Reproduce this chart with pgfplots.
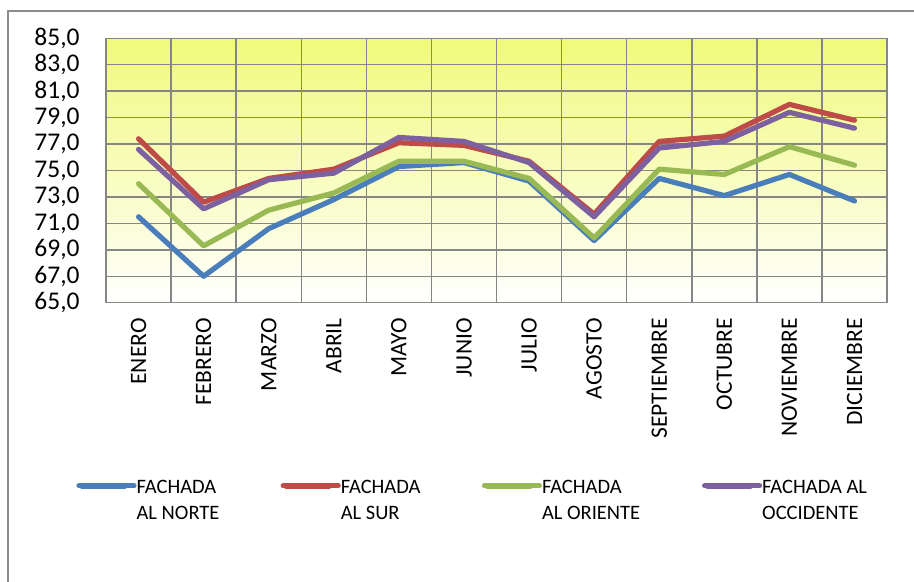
\documentclass[border=0pt]{standalone}
\usepackage{fontspec}
\setmainfont{Carlito}
\usepackage{pgfplots}
\usepackage{pgfplotstable}
\pgfplotsset{compat=1.18}

\definecolor{serNorte}{RGB}{74,126,187}
\definecolor{serSur}{RGB}{190,75,72}
\definecolor{serOriente}{RGB}{152,185,84}
\definecolor{serOccid}{RGB}{125,96,160}
\definecolor{gridgray}{RGB}{134,134,134}
\definecolor{framegray}{RGB}{140,140,140}
\definecolor{topyellow}{RGB}{240,250,122}

% temperaturas por fachada, mes 0 = enero
\pgfplotstableread{
mes norte sur  oriente occidente
0   71.5  77.4 74.0    76.6
1   67.0  72.6 69.3    72.1
2   70.6  74.4 72.0    74.3
3   72.8  75.1 73.3    74.8
4   75.3  77.1 75.7    77.5
5   75.6  76.9 75.7    77.2
6   74.2  75.7 74.4    75.6
7   69.7  71.7 69.9    71.5
8   74.4  77.2 75.1    76.7
9   73.1  77.6 74.7    77.2
10  74.7  80.0 76.8    79.4
11  72.7  78.8 75.4    78.2
}\datos

\newcommand{\entrada}[3]{\begin{tabular}[t]{@{}p{#1}@{}}#2\\#3\end{tabular}}

\begin{document}
\begin{tikzpicture}
\useasboundingbox (0,0) rectangle (457pt,291pt);
\draw[framegray, line width=0.7pt] (4pt,-2pt) rectangle (460pt,285.5pt);
\begin{axis}[
  at={(53pt,139.65pt)}, anchor=south west,
  scale only axis, width=390.5pt, height=132.2pt,
  xmin=-0.5, xmax=11.5, ymin=65, ymax=85,
  xtick={0,...,11},
  xticklabels={ENERO,FEBRERO,MARZO,ABRIL,MAYO,JUNIO,JULIO,AGOSTO,SEPTIEMBRE,OCTUBRE,NOVIEMBRE,DICIEMBRE},
  minor xtick={-0.5,0.5,...,11.5},
  ytick={65,67,...,85},
  xminorgrids=true, ymajorgrids=true,
  major tick length=0pt, minor tick length=0pt,
  grid style={gridgray, line width=0.75pt},
  minor grid style={gridgray, line width=0.75pt},
  axis line style={gridgray, line width=0.75pt},
  axis background/.style={top color=topyellow, bottom color=white},
  yticklabel style={/pgf/number format/fixed, /pgf/number format/fixed zerofill,
    /pgf/number format/precision=1, /pgf/number format/use comma,
    /pgf/number format/assume math mode=true,
    font=\fontsize{12.75}{14}\selectfont, inner sep=0pt},
  yticklabel shift=13pt,
  xticklabel style={rotate=90, anchor=east, inner sep=0pt, font=\fontsize{11.75}{13}\selectfont},
  xticklabel shift=7.6pt,
  legend columns=4,
  legend style={draw=none, fill=none, inner sep=0pt, at={(-0.0384,-0.651)}, anchor=north west,
    font=\fontsize{10.25}{13}\selectfont, nodes={inner sep=0pt},
    /tikz/column sep=0pt,
    /tikz/every odd column/.style={column sep=0pt},
    /tikz/every even column/.style={column sep=0pt}},
  legend image code/.code={\draw[#1, line width=2.8pt, line cap=round] (1.4pt,0pt) -- (23pt,0pt); \path (0pt,0pt) -- (27.5pt,0pt);},
  every axis plot/.append style={line width=2.6pt, line join=round, line cap=round},
]
\addplot[serNorte] table[x=mes, y=norte] {\datos};
\addplot[serSur] table[x=mes, y=sur] {\datos};
\addplot[serOriente] table[x=mes, y=oriente] {\datos};
\addplot[serOccid] table[x=mes, y=occidente] {\datos};
\legend{\entrada{72pt}{FACHADA}{AL NORTE},\entrada{70.5pt}{FACHADA}{AL SUR},\entrada{80pt}{FACHADA}{AL ORIENTE},\entrada{60pt}{FACHADA AL}{OCCIDENTE}}
\end{axis}
\end{tikzpicture}
\end{document}
